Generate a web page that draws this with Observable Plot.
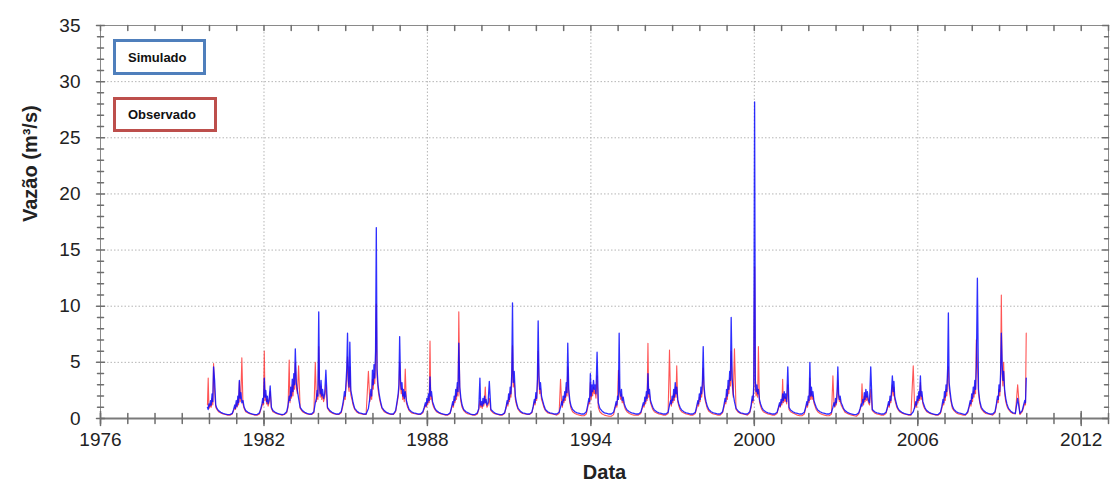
<!DOCTYPE html>
<html>
<head>
<meta charset="utf-8">
<script src="https://cdn.jsdelivr.net/npm/d3@7"></script>
<script src="https://cdn.jsdelivr.net/npm/@observablehq/plot@0.6"></script>
<style>
  html, body { margin: 0; padding: 0; background: #fff; }
  #wrap { position: relative; width: 1112px; height: 488px; font-family: "Liberation Sans", Arial, sans-serif; }
  .leg { position: absolute; box-sizing: border-box; border: 3px solid; background: #fff;
         font: bold 13px "Liberation Sans", Arial, sans-serif; color: #111; padding-left: 12px; display: flex; align-items: center; }
</style>
</head>
<body>
<div id="wrap"></div>
<script>
// Hydrological seasons (Oct of previous year .. Sep of the season year)
const seasons = [1980,1981,1982,1983,1984,1985,1986,1987,1988,1989,1990,1991,1992,1993,1994,1995,1996,1997,1998,1999,2000,2001,2002,2003,2004,2005,2006,2007,2008,2009,2010];
// Sample dates inside each season (months 10-12 belong to the previous calendar year)
const sampleDates = ["10-01","11-01","11-20","12-05","12-15","12-25","01-05","01-15","01-25","02-05","02-15","02-25","03-10","03-25","04-10","05-01","06-01","07-01","08-01","09-01"];

// Simulated discharge (m³/s), one row per season
const simulado = [
  [null,null,null,1.0,0.8,1.3,1.1,1.6,1.2,2.2,1.5,4.6,3.4,1.2,0.9,0.7,0.55,0.45,0.4,0.35],
  [0.35,0.45,0.8,1.2,0.9,1.6,1.1,2.0,1.4,3.4,1.8,2.3,1.4,1.6,1.0,0.7,0.55,0.45,0.4,0.35],
  [0.35,0.5,0.9,1.3,1.8,1.4,3.6,1.9,2.5,1.5,2.0,1.3,1.6,2.9,1.0,0.7,0.55,0.45,0.4,0.35],
  [0.4,0.6,1.2,2.0,1.6,2.8,2.0,3.5,2.4,4.0,3.0,6.2,3.2,2.5,1.8,1.0,0.7,0.55,0.45,0.4],
  [0.4,0.6,1.4,1.8,2.5,2.0,9.5,3.0,2.2,3.4,2.0,2.6,1.8,2.2,4.3,1.0,0.7,0.55,0.45,0.4],
  [0.4,0.6,1.2,1.8,2.4,2.0,3.2,4.5,7.6,3.4,2.8,6.8,2.5,2.0,1.4,0.9,0.65,0.5,0.45,0.4],
  [0.4,0.9,1.8,2.6,2.0,4.3,3.0,4.8,3.6,6.0,17.0,4.4,3.0,2.2,1.6,1.0,0.7,0.55,0.45,0.4],
  [0.4,0.7,1.5,2.2,3.0,7.3,3.5,2.6,3.2,2.0,2.6,1.8,2.4,1.6,1.2,0.8,0.6,0.5,0.45,0.4],
  [0.4,0.6,1.0,1.4,1.1,1.8,1.4,2.2,1.6,3.7,2.0,2.4,1.5,1.2,0.9,0.7,0.55,0.45,0.4,0.35],
  [0.35,0.5,1.0,1.5,1.2,2.0,1.6,2.6,2.0,3.2,2.4,6.7,2.8,1.8,1.2,0.8,0.6,0.5,0.4,0.35],
  [0.35,0.5,0.9,3.6,1.2,1.5,1.1,1.8,1.3,2.0,1.4,1.7,1.2,1.4,3.3,0.8,0.6,0.45,0.4,0.35],
  [0.35,0.5,1.0,1.6,1.3,2.2,1.7,2.8,2.2,4.0,10.3,3.2,4.2,2.0,1.4,0.9,0.65,0.5,0.45,0.4],
  [0.4,0.55,1.1,1.7,1.4,2.3,1.8,3.5,8.7,3.8,2.6,3.2,2.0,1.6,1.2,0.8,0.6,0.5,0.45,0.4],
  [0.4,0.55,1.0,1.5,1.2,2.0,1.6,2.4,1.9,3.2,2.3,6.7,2.6,1.6,1.1,0.8,0.6,0.5,0.45,0.4],
  [0.4,0.6,1.2,1.8,1.5,4.0,2.0,3.0,2.4,3.4,2.6,3.0,2.2,5.9,1.4,0.9,0.65,0.5,0.45,0.4],
  [0.4,0.55,1.0,1.5,1.2,2.0,1.7,7.6,2.4,2.0,2.6,1.6,1.9,1.3,1.0,0.75,0.6,0.5,0.45,0.4],
  [0.4,0.55,1.0,1.4,1.2,1.9,1.5,2.4,1.8,4.0,2.2,2.6,1.6,1.3,1.0,0.75,0.6,0.5,0.45,0.4],
  [0.4,0.55,1.2,1.6,1.3,2.0,1.6,2.6,1.9,3.2,2.2,2.8,1.7,1.3,1.0,0.75,0.6,0.5,0.45,0.4],
  [0.4,0.55,1.1,1.6,1.3,2.2,1.7,2.8,2.2,3.4,6.4,3.0,2.0,1.5,1.1,0.8,0.6,0.5,0.45,0.4],
  [0.4,0.6,1.2,1.8,1.5,2.6,2.0,3.4,2.6,4.2,3.4,9.0,3.6,2.2,1.5,0.9,0.65,0.5,0.45,0.4],
  [0.4,0.6,1.2,2.0,1.6,3.0,28.2,3.4,2.4,3.0,2.2,2.6,1.7,1.3,1.0,0.75,0.6,0.5,0.45,0.4],
  [0.4,0.55,1.0,1.4,1.1,1.7,1.4,2.2,1.6,2.4,1.8,2.2,1.5,4.6,1.0,0.75,0.6,0.5,0.45,0.4],
  [0.4,0.55,1.0,1.5,1.2,2.0,1.6,5.0,2.0,2.8,2.0,2.4,1.6,1.3,1.0,0.75,0.6,0.5,0.45,0.4],
  [0.4,0.55,1.0,1.4,1.1,1.8,1.4,2.4,4.6,2.2,1.7,2.0,1.4,1.2,0.9,0.7,0.55,0.45,0.4,0.35],
  [0.35,0.5,0.9,1.3,1.1,1.7,1.4,2.3,1.7,2.6,1.9,2.4,1.6,1.4,4.6,0.8,0.6,0.5,0.45,0.4],
  [0.4,0.55,1.0,1.5,1.2,2.0,1.6,2.6,3.8,2.4,3.3,2.0,1.6,1.2,0.9,0.7,0.55,0.45,0.4,0.35],
  [0.35,0.6,1.0,1.5,1.2,2.0,1.6,2.4,1.8,3.8,2.0,2.4,1.5,1.2,0.9,0.7,0.55,0.45,0.4,0.35],
  [0.35,0.55,1.1,1.7,1.4,2.4,1.9,3.0,2.4,4.4,9.4,3.2,2.4,1.6,1.1,0.8,0.6,0.5,0.45,0.4],
  [0.35,0.6,1.1,1.6,1.3,2.2,1.8,2.8,2.2,3.4,2.6,4.6,12.5,2.6,1.6,1.0,0.7,0.55,0.45,0.4],
  [0.4,0.6,1.3,2.0,1.7,3.0,2.4,4.0,7.6,4.8,3.4,4.2,2.6,1.8,1.3,0.9,0.65,0.5,0.45,1.8],
  [0.45,0.7,1.2,1.6,1.4,3.6,null,null,null,null,null,null,null,null,null,null,null,null,null,null]
];

// Observed discharge (m³/s), one row per season
const observado = [
  [null,null,null,1.2,3.6,0.9,1.0,1.3,1.0,1.8,1.2,4.9,2.5,1.0,0.8,0.6,0.5,0.4,0.35,0.3],
  [0.3,0.4,0.7,1.0,0.8,1.4,1.0,1.7,1.2,3.3,1.5,2.0,5.4,1.3,0.9,0.6,0.5,0.4,0.35,0.3],
  [0.3,0.4,0.8,1.1,1.5,1.2,6.0,1.6,2.1,1.3,1.7,1.1,1.4,2.4,0.9,0.6,0.5,0.4,0.35,0.3],
  [0.35,0.5,1.0,5.2,1.4,2.4,1.8,3.0,2.0,3.4,2.6,5.0,2.8,2.2,4.7,0.9,0.6,0.5,0.4,0.35],
  [0.35,0.5,5.0,1.5,2.2,1.7,6.4,2.6,1.9,2.9,1.7,2.2,1.5,1.9,3.0,0.9,0.6,0.5,0.4,0.35],
  [0.35,0.5,1.0,1.5,2.0,1.7,2.8,3.8,5.5,2.9,2.4,4.6,2.1,1.7,1.2,0.8,0.55,0.45,0.4,0.35],
  [0.35,4.2,1.5,2.2,1.7,3.5,2.6,4.0,3.1,5.2,10.2,3.8,2.6,1.9,1.4,0.9,0.6,0.5,0.4,0.35],
  [0.35,0.6,1.3,1.9,2.6,5.0,3.0,2.2,2.7,1.7,2.2,1.5,4.4,1.4,1.0,0.7,0.5,0.45,0.4,0.35],
  [0.35,0.5,0.9,1.2,1.0,1.5,1.2,1.9,1.4,6.9,1.7,2.0,1.3,1.0,0.8,0.6,0.5,0.4,0.35,0.3],
  [0.3,0.45,0.9,1.3,1.0,1.7,1.4,2.2,1.7,2.8,2.0,9.5,2.4,1.5,1.0,0.7,0.5,0.4,0.35,0.3],
  [0.3,0.4,0.8,1.6,1.0,1.3,0.9,1.5,1.1,1.7,2.8,1.4,1.0,1.2,1.8,0.7,0.5,0.4,0.35,0.3],
  [0.3,0.45,0.9,1.4,1.1,1.9,1.5,2.4,1.9,3.5,6.5,2.8,3.4,1.7,1.2,0.8,0.55,0.45,0.4,0.35],
  [0.35,0.5,1.0,1.5,1.2,2.0,1.6,3.0,6.0,3.2,2.2,2.7,1.7,1.4,1.0,0.7,0.5,0.45,0.4,0.35],
  [0.3,0.45,3.5,1.3,1.0,1.7,1.4,2.0,1.6,2.8,2.0,4.6,2.2,1.4,0.9,0.6,0.45,0.35,0.3,0.25],
  [0.25,0.4,1.0,1.5,1.3,3.2,1.7,2.5,2.0,2.8,2.2,2.5,1.8,3.8,1.0,0.6,0.4,0.3,0.25,0.2],
  [0.2,0.35,0.9,1.3,1.0,1.7,4.3,3.5,2.0,1.7,2.2,1.4,1.6,1.1,0.8,0.6,0.45,0.35,0.3,0.3],
  [0.3,0.45,0.9,1.2,1.0,1.6,1.3,2.1,1.6,6.7,1.9,2.2,1.4,1.1,0.8,0.6,0.5,0.4,0.35,0.3],
  [0.3,0.45,6.1,1.4,1.1,1.7,1.4,2.2,1.6,2.8,1.9,4.7,1.5,1.1,0.8,0.6,0.5,0.4,0.35,0.3],
  [0.3,0.45,0.9,1.4,1.1,1.9,1.5,2.4,1.9,2.9,4.5,2.6,1.7,1.3,0.9,0.65,0.5,0.4,0.35,0.3],
  [0.3,0.5,1.0,1.5,1.3,2.2,1.7,2.9,2.2,3.6,2.9,6.0,3.0,1.9,6.2,0.8,0.55,0.45,0.4,0.35],
  [0.3,0.5,1.0,1.7,1.4,2.6,13.5,2.9,2.0,2.6,1.9,6.4,1.5,1.1,0.8,0.6,0.5,0.4,0.35,0.3],
  [0.3,0.45,0.9,1.2,1.0,1.5,1.2,3.5,1.4,2.0,1.5,1.9,1.3,3.0,0.8,0.6,0.5,0.4,0.3,0.25],
  [0.25,0.4,0.9,1.3,1.0,1.7,1.4,3.6,1.7,2.4,1.7,2.0,1.4,1.1,0.8,0.6,0.45,0.35,0.3,0.25],
  [0.25,0.4,3.8,1.2,1.0,1.5,1.2,2.0,3.4,1.9,1.5,1.7,1.2,1.0,0.8,0.55,0.45,0.35,0.3,0.25],
  [0.2,0.4,0.8,1.1,3.1,1.5,1.2,2.0,1.5,2.2,1.6,2.0,1.4,1.2,2.6,0.7,0.5,0.4,0.35,0.3],
  [0.3,0.45,0.9,1.3,1.0,1.7,1.4,2.2,3.0,2.0,2.8,1.7,1.4,1.0,0.8,0.6,0.5,0.4,0.35,0.3],
  [0.3,4.7,0.9,1.3,1.0,1.7,1.4,2.1,1.6,3.2,1.7,2.0,1.3,1.0,0.8,0.6,0.5,0.4,0.35,0.3],
  [0.3,0.45,0.9,1.4,1.2,2.0,1.6,2.6,2.0,3.8,4.6,2.7,2.0,1.4,0.9,0.7,0.5,0.4,0.35,0.3],
  [0.3,0.5,1.0,1.4,1.1,1.9,1.5,2.4,1.9,2.9,2.2,7.0,5.0,2.2,1.4,0.85,0.6,0.45,0.4,0.35],
  [0.3,0.5,1.1,1.7,1.4,2.6,2.0,3.4,11.0,4.0,2.9,5.0,2.2,1.5,1.1,0.8,0.55,0.45,0.4,3.0],
  [0.35,0.6,1.0,1.4,1.2,7.6,null,null,null,null,null,null,null,null,null,null,null,null,null,null]
];

// Axis ticks
const yMajor = [0,5,10,15,20,25,30,35];
const yMinor = d3.range(0, 36).filter(v => v % 5 !== 0);
const xLabelYears = [1976,1982,1988,1994,2000,2006,2012];
const xGridYears = [1982,1988,1994,2000,2006];
const xMinorYears = d3.range(1976, 2014);

function toSeries(rows) {
  const out = [];
  seasons.forEach((Y, s) => {
    sampleDates.forEach((md, j) => {
      const v = rows[s][j];
      if (v == null) return;
      const m = +md.slice(0, 2), d = +md.slice(3, 5);
      const yr = m >= 10 ? Y - 1 : Y;
      out.push({date: new Date(Date.UTC(yr, m - 1, d)), v});
    });
  });
  return out;
}
const simData = toSeries(simulado);
const obsData = toSeries(observado);
const yearDate = y => new Date(Date.UTC(y, 0, 1));

const tickShape = {draw(ctx, l) { ctx.moveTo(0, 0); ctx.lineTo(0, -l); }};
const tk = "#6e6e6e";

const chart = Plot.plot({
  width: 1112,
  height: 488,
  marginLeft: 100,
  marginRight: 4,
  marginTop: 25,
  marginBottom: 70,
  style: {fontFamily: "'Liberation Sans', Arial, sans-serif", background: "#fff", color: "#222"},
  x: {type: "utc", domain: [yearDate(1976), yearDate(2013)]},
  y: {domain: [0, 35]},
  marks: [
    Plot.gridY(yMajor.filter(v => v > 0 && v < 35), {stroke: "#b5b5b5", strokeOpacity: 1, strokeDasharray: "1.5,2"}),
    Plot.gridX(xGridYears.map(yearDate), {stroke: "#b5b5b5", strokeOpacity: 1, strokeDasharray: "1.5,2"}),
    Plot.line(obsData, {x: "date", y: "v", stroke: "#ff2b2b", strokeWidth: 1.1, strokeOpacity: 0.8}),
    Plot.line(simData, {x: "date", y: "v", stroke: "#0a0aff", strokeWidth: 1.3, strokeOpacity: 0.85}),
    Plot.frame({stroke: "#8a8a8a", strokeWidth: 1}),
    Plot.ruleY([0], {stroke: "#7a7a7a", strokeWidth: 2}),
    // left ticks
    Plot.vector(yMajor, {y: d => d, frameAnchor: "left", length: 8, rotate: 90, anchor: "middle", shape: tickShape, stroke: tk}),
    Plot.vector(yMinor, {y: d => d, frameAnchor: "left", length: 6, rotate: 90, anchor: "middle", shape: tickShape, stroke: tk}),
    // right ticks
    Plot.vector(yMajor, {y: d => d, frameAnchor: "right", length: 6, rotate: -90, anchor: "start", shape: tickShape, stroke: tk}),
    Plot.vector(yMinor, {y: d => d, frameAnchor: "right", length: 4, rotate: -90, anchor: "start", shape: tickShape, stroke: tk}),
    // top ticks
    Plot.vector(xMinorYears.map(yearDate), {x: d => d, frameAnchor: "top", length: 5, rotate: 180, anchor: "start", shape: tickShape, stroke: tk}),
    // bottom ticks
    Plot.vector(xMinorYears.map(yearDate), {x: d => d, frameAnchor: "bottom", length: 10, rotate: 0, anchor: "middle", shape: tickShape, stroke: tk}),
    Plot.vector(xLabelYears.map(yearDate), {x: d => d, frameAnchor: "bottom", length: 14, rotate: 0, anchor: "middle", shape: tickShape, stroke: tk}),
    Plot.axisY(yMajor, {tickSize: 0, tickPadding: 20, fontSize: 19, label: null, fill: "#222"}),
    Plot.axisX(xLabelYears.map(yearDate), {tickSize: 0, tickPadding: 14, fontSize: 19, label: null, fill: "#222", tickFormat: d => String(d.getUTCFullYear())}),
    Plot.text(["Vazão (m³/s)"], {frameAnchor: "left", dx: -70, rotate: -90, fontWeight: "bold", fontSize: 20, fill: "#222"}),
    Plot.text(["Data"], {frameAnchor: "bottom", dy: 60, fontWeight: "bold", fontSize: 20, fill: "#222"})
  ]
});

const wrap = document.getElementById("wrap");
wrap.appendChild(chart);
const legendItems = [
  {label: "Simulado", color: "#4f7fbc", left: 113, top: 39, width: 93, height: 36},
  {label: "Observado", color: "#bd4f4c", left: 113, top: 97, width: 104, height: 35}
];
for (const it of legendItems) {
  const d = document.createElement("div");
  d.className = "leg";
  d.textContent = it.label;
  Object.assign(d.style, {left: it.left + "px", top: it.top + "px", width: it.width + "px", height: it.height + "px", borderColor: it.color});
  wrap.appendChild(d);
}
</script>
</body>
</html>
